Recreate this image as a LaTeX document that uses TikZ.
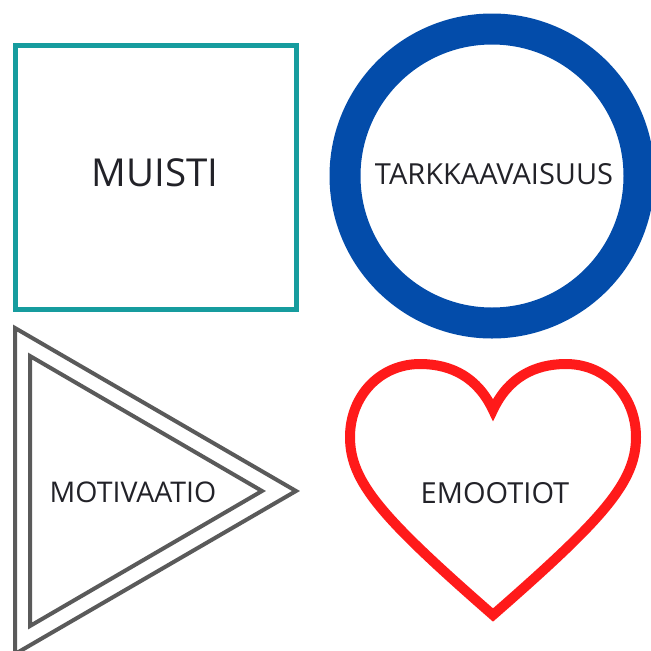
\documentclass[tikz,border=0pt]{standalone}
\usepackage{fontspec}
\setmainfont{Open Sans}
\definecolor{tealc}{RGB}{22,156,158}
\definecolor{bluec}{RGB}{3,76,170}
\definecolor{grayc}{RGB}{90,90,90}
\definecolor{redc}{RGB}{255,26,26}
\definecolor{txtc}{RGB}{34,34,40}
\tikzset{
  lbl/.style={text=txtc, inner sep=0pt, anchor=center},
}
\begin{document}
\begin{tikzpicture}[x=1pt,y=-1pt]
\useasboundingbox (0,0) rectangle (651,651);
% square
\draw[tealc, line width=5pt, line join=miter] (15,45.5) rectangle (296,309.5);
\node[lbl, font=\fontsize{38.5}{44}\selectfont] (muisti) at (155,173) {MUISTI};
% ring
\draw[bluec, line width=31pt] (492,176) circle[radius=147];
\node[lbl, font=\fontsize{29}{34}\selectfont] (tark) at (494,174) {TARKKAAVAISUUS};
% triangle
\draw[grayc, line width=4pt, line join=miter] (15,328) -- (15,654) -- (296,491) -- cycle;
\draw[grayc, line width=4pt, line join=miter] (30,356) -- (30,626) -- (262,491) -- cycle;
\node[lbl, font=\fontsize{28.5}{33}\selectfont] (moti) at (133,492) {MOTIVAATIO};
% heart
\draw[redc, line width=10pt, line join=miter]
  (493,410) .. controls (478,378) and (452,364) .. (420,364)
  .. controls (380,364) and (350,396) .. (350,437)
  .. controls (350,482) and (382,518) .. (493,615)
  .. controls (604,518) and (636,482) .. (636,437)
  .. controls (636,396) and (606,364) .. (566,364)
  .. controls (534,364) and (508,378) .. (493,410) -- cycle;
\node[lbl, font=\fontsize{29}{34}\selectfont] (emo) at (495,493) {EMOOTIOT};
\end{tikzpicture}
\end{document}
